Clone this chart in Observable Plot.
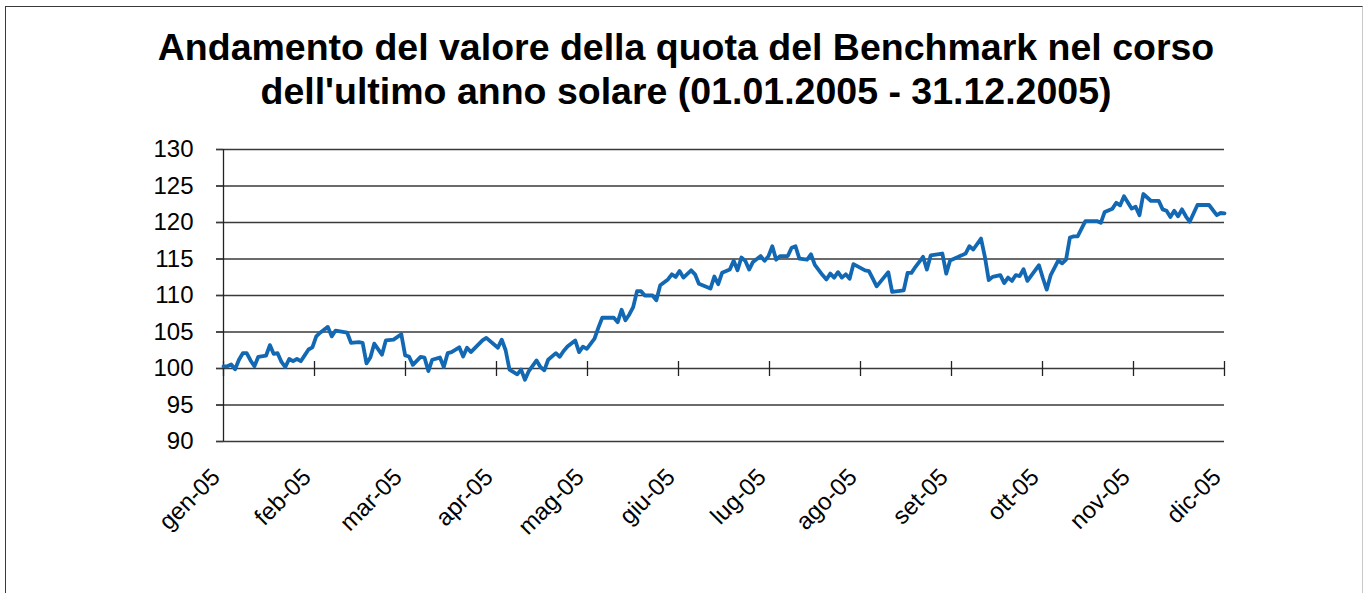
<!DOCTYPE html>
<html><head><meta charset="utf-8">
<script src="https://cdn.jsdelivr.net/npm/d3@7"></script>
<script src="https://cdn.jsdelivr.net/npm/@observablehq/plot@0.6"></script>
<style>
html,body{margin:0;padding:0;background:#fff;}
body{width:1365px;height:593px;overflow:hidden;position:relative;font-family:"Liberation Sans",Arial,Helvetica,sans-serif;}
#frame{position:absolute;left:5px;top:6px;width:1358px;height:700px;border:1.5px solid #3a3a3a;border-right-color:#c8c8c8;box-sizing:border-box;pointer-events:none;}
#title{height:120px;box-sizing:border-box;padding-top:25px;padding-left:7px;text-align:center;font-weight:bold;font-size:37.5px;line-height:44px;color:#000;}
#chart{position:relative;}
</style></head>
<body>
<div id="frame"></div>
<div id="title">Andamento del valore della quota del Benchmark nel corso<br>dell'ultimo anno solare (01.01.2005 - 31.12.2005)</div>
<div id="chart"></div>
<script>
// trading-day index (0 = first session of 2005, 259 = last) and quota value
const days = [0,1,2,3,4,5,6,7,8,9,11,12,13,14,15,16,17,18,19,20,21,22,23,24,25,27,28,29,32,33,35,36,37,38,39,41,42,44,46,47,48,49,51,52,53,54,56,57,58,59,61,62,63,64,67,68,71,72,73,74,76,77,78,79,81,82,83,84,86,87,88,89,91,92,93,94,96,97,98,101,102,103,104,105,106,107,108,109,111,112,113,115,116,117,118,119,121,122,123,126,127,128,129,131,132,133,134,135,136,137,139,140,141,142,143,144,146,147,148,149,151,152,153,155,156,157,158,159,160,161,162,163,166,167,168,169,172,173,176,177,178,179,181,182,183,186,187,188,191,192,193,194,196,197,198,199,201,202,203,204,205,206,207,208,211,212,213,214,216,217,218,219,220,221,223,226,227,228,230,231,232,233,235,236,237,238,240,242,243,244,245,246,247,248,249,250,252,255,257,258,259];
const values = [100.3,100.3,100.55,99.9,101.2,102.1,102.1,101.1,100.3,101.6,101.75,103.2,102.0,102.1,100.9,100.2,101.3,101.0,101.3,101.0,101.8,102.6,102.9,104.4,104.9,105.7,104.4,105.2,104.9,103.5,103.6,103.5,100.7,101.5,103.4,101.9,103.85,103.95,104.7,101.8,101.65,100.5,101.6,101.5,99.65,101.2,101.5,100.2,102.1,102.25,102.9,101.65,102.85,102.25,103.85,104.2,102.85,103.95,102.5,99.85,99.2,99.85,98.45,99.65,101.1,100.2,99.75,101.2,102.1,101.6,102.4,103.0,103.85,102.25,103.0,102.7,104.1,105.6,106.95,106.95,106.35,108.05,106.6,107.4,108.4,110.6,110.6,110.0,110.0,109.35,111.4,112.2,112.9,112.55,113.35,112.45,113.45,112.9,111.6,110.95,112.6,111.55,113.1,113.55,114.75,113.45,115.2,114.75,113.55,114.6,115.4,114.75,115.4,116.75,114.9,115.4,115.4,116.55,116.75,115.05,114.9,115.65,114.2,112.8,112.2,113.0,112.45,113.2,112.45,112.9,112.3,114.3,113.45,113.35,112.3,111.25,113.2,110.5,110.7,113.1,113.1,113.9,115.3,113.55,115.5,115.75,113.0,114.8,115.5,115.75,116.75,116.3,117.8,115.3,112.1,112.55,112.8,111.7,112.45,112.0,112.8,112.65,113.6,112.0,114.15,112.4,110.8,112.75,114.8,114.4,114.9,117.95,118.1,118.1,120.2,120.2,119.95,121.45,121.9,122.7,122.35,123.6,121.9,122.15,121.0,123.9,122.95,122.95,121.8,121.6,120.75,121.6,120.85,121.8,120.85,120.1,122.4,122.4,121.0,121.3,121.25];
const monthLabels = ["gen-05","feb-05","mar-05","apr-05","mag-05","giu-05","lug-05","ago-05","set-05","ott-05","nov-05","dic-05"];
const yTicks = [90,95,100,105,110,115,120,125,130];
const lastDay = 259;

const series = days.map((d, i) => ({day: d, value: values[i]}));
const monthTicks = monthLabels.map((label, k) => ({pos: k * lastDay / (monthLabels.length - 1), label}));

const chart = Plot.plot({
  width: 1365,
  height: 473,
  marginTop: 29,
  marginBottom: 152,
  marginLeft: 223,
  marginRight: 141,
  style: {fontFamily: "'Liberation Sans', Arial, Helvetica, sans-serif", fontSize: "24px", color: "#000", background: "transparent", overflow: "visible"},
  x: {domain: [0, lastDay], axis: null},
  y: {domain: [90, 130], axis: null},
  marks: [
    Plot.gridY(yTicks, {stroke: "#3a3a3a", strokeOpacity: 1, strokeWidth: 1.3, insetLeft: -7}),
    Plot.axisY(yTicks, {tickSize: 7, tickPadding: 23, tickFormat: d => String(d), stroke: "#3a3a3a", strokeWidth: 1.3, fontSize: 24, label: null}),
    Plot.ruleX([0], {stroke: "#222", strokeWidth: 1.3}),
    Plot.ruleX(monthTicks, {x: "pos", y1: () => 100, y2: () => 100, insetTop: -7, insetBottom: -8, stroke: "#222", strokeWidth: 1.3}),
    Plot.text(monthTicks, {x: "pos", text: "label", frameAnchor: "bottom", dy: 37, dx: -2, rotate: -45, textAnchor: "end", lineAnchor: "bottom", fontSize: 24, fill: "#000"}),
    Plot.line(series, {x: "day", y: "value", stroke: "#1268b2", strokeWidth: 3.8, strokeLinejoin: "round"})
  ]
});
document.getElementById("chart").append(chart);
</script>
</body></html>
